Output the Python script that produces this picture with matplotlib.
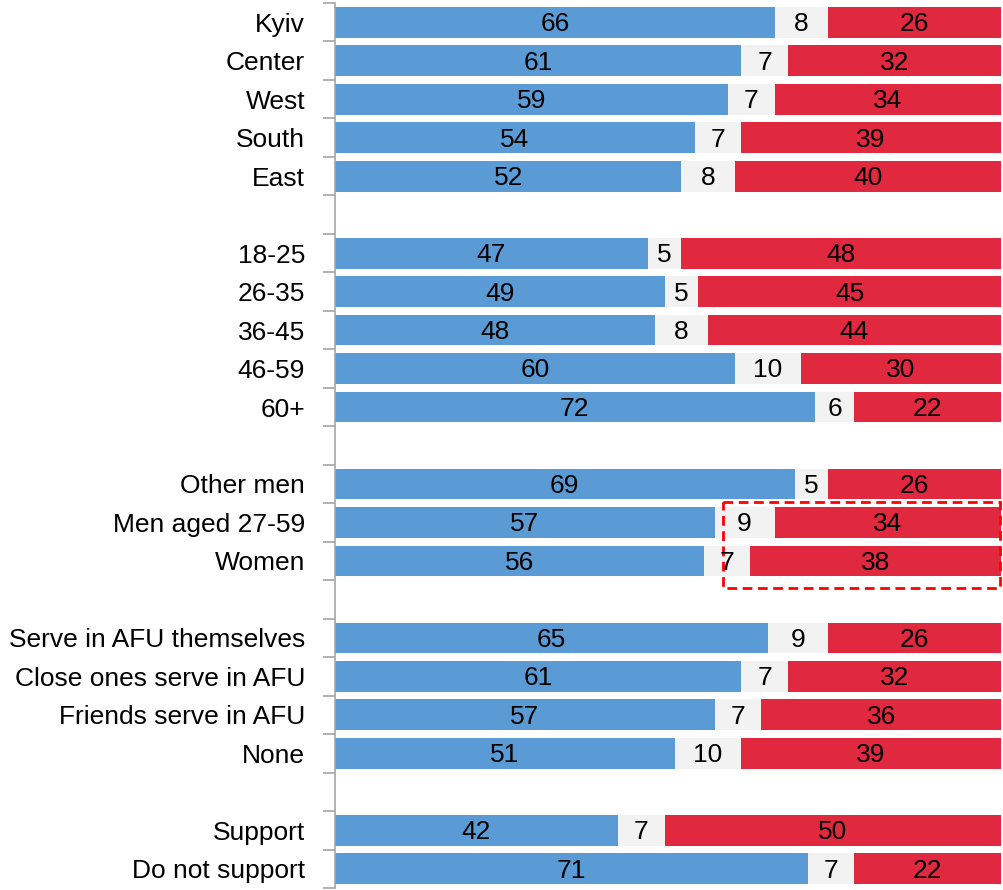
import numpy as np
import matplotlib.pyplot as plt
from matplotlib.patches import Rectangle

plt.rcParams['font.family'] = ['Liberation Sans', 'DejaVu Sans']

# Grupos de categorías (se separan con una fila vacía)
groups = [
    ["Kyiv", "Center", "West", "South", "East"],
    ["18-25", "26-35", "36-45", "46-59", "60+"],
    ["Other men", "Men aged 27-59", "Women"],
    ["Serve in AFU themselves", "Close ones serve in AFU", "Friends serve in AFU", "None"],
    ["Support", "Do not support"],
]
blue_vals = [[66, 61, 59, 54, 52], [47, 49, 48, 60, 72], [69, 57, 56], [65, 61, 57, 51], [42, 71]]
gray_vals = [[8, 7, 7, 7, 8], [5, 5, 8, 10, 6], [5, 9, 7], [9, 7, 7, 10], [7, 7]]
red_vals = [[26, 32, 34, 39, 40], [48, 45, 44, 30, 22], [26, 34, 38], [26, 32, 36, 39], [50, 22]]

c_blue = '#5B9BD5'
c_gray = '#F2F2F2'
c_red = '#E0293F'

fig = plt.figure(figsize=(10.04, 8.9), dpi=100)
ax = fig.add_axes([335 / 1004, 2 / 890, 666 / 1004, 885 / 890])

labels, pos, b, g, r = [], [], [], [], []
y = 0
for gi, grp in enumerate(groups):
    for i, name in enumerate(grp):
        labels.append(name)
        pos.append(y)
        b.append(blue_vals[gi][i])
        g.append(gray_vals[gi][i])
        r.append(red_vals[gi][i])
        y += 1
    y += 1  # fila vacía
n_slots = y - 1
pos = np.array(pos)
b, g, r = np.array(b), np.array(g), np.array(r)

# las filas redondeadas no siempre suman 100: se escalan a 100%
tot = b + g + r
bw, gw, rw = b * 100 / tot, g * 100 / tot, r * 100 / tot

h = 0.8
ax.barh(pos, bw, height=h, color=c_blue)
ax.barh(pos, gw, left=bw, height=h, color=c_gray)
ax.barh(pos, rw, left=bw + gw, height=h, color=c_red)

fs = 19
for i, p in enumerate(pos):
    ax.text(bw[i] / 2, p + 0.05, str(b[i]), ha='center', va='center', fontsize=fs)
    ax.text(bw[i] + gw[i] / 2, p + 0.05, str(g[i]), ha='center', va='center', fontsize=fs)
    ax.text(bw[i] + gw[i] + rw[i] / 2, p + 0.05, str(r[i]), ha='center', va='center', fontsize=fs)

# Recuadro punteado alrededor de "Men aged 27-59" y "Women"
i_men = labels.index("Men aged 27-59")
rect = Rectangle((58.2, pos[i_men] - 0.54), 41.6, 2.24, fill=False,
                 edgecolor='red', linestyle=(0, (3.5, 2)), linewidth=2, clip_on=False)
ax.add_patch(rect)

ax.set_xlim(0, 100)
ax.set_ylim(n_slots - 0.5, -0.5)
ax.set_yticks(np.arange(-0.5, n_slots, 1))
ax.set_yticklabels([])
ax.set_yticks(pos, minor=True)
ax.set_yticklabels(labels, minor=True, fontsize=fs)
ax.tick_params(axis='y', which='major', length=9, color='#A6A6A6', width=1.2)
ax.tick_params(axis='y', which='minor', length=0, pad=21.5)
ax.set_xticks([])
for s in ['top', 'right', 'bottom']:
    ax.spines[s].set_visible(False)
ax.spines['left'].set_color('#A6A6A6')
ax.spines['left'].set_linewidth(1.2)

plt.savefig('out.png', dpi=100)
